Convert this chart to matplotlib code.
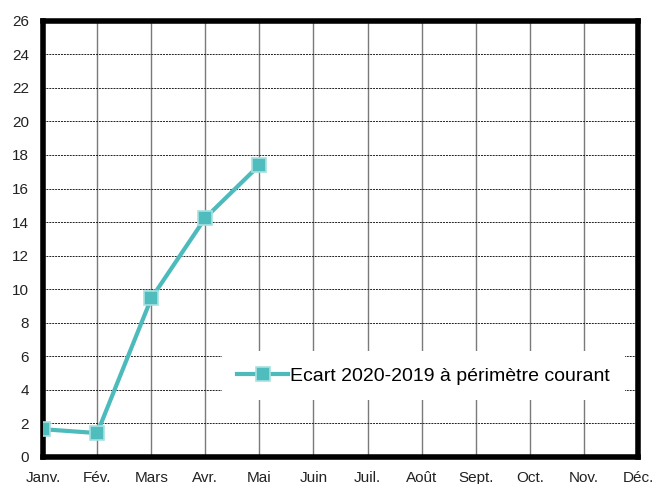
import matplotlib.pyplot as plt

months = ['Janv.', 'Fév.', 'Mars', 'Avr.', 'Mai', 'Juin', 'Juil.', 'Août',
          'Sept.', 'Oct.', 'Nov.', 'Déc.']
ecart = [1.65, 1.42, 9.45, 14.25, 17.4]
series_label = 'Ecart 2020-2019 à périmètre courant'


def main():
    plt.rcParams['font.family'] = ['Liberation Sans Narrow', 'Liberation Sans', 'DejaVu Sans']
    fig = plt.figure(figsize=(6.53, 4.84), dpi=100)
    ax = fig.add_axes([0.066, 0.056, 0.911, 0.901])

    x = list(range(len(ecart)))
    ax.plot(x, ecart, color='#4DBBBB', linewidth=3, marker='s', markersize=10,
            markerfacecolor='#4FBDBD', markeredgecolor='#A8E0E0', markeredgewidth=1.2,
            label=series_label, zorder=5)

    ax.set_xlim(0, len(months) - 1)
    ax.set_ylim(0, 26)
    ax.set_xticks(range(len(months)))
    ax.set_xticklabels(months)
    ax.set_yticks(range(0, 27, 2))
    ax.tick_params(length=0, labelsize=11, colors='#222222')
    ax.tick_params(axis='x', pad=10)
    ax.tick_params(axis='y', pad=10)

    ax.grid(axis='x', color='#7a7a7a', linewidth=1, linestyle='-')
    ax.grid(axis='y', color='#222222', linewidth=0.7, linestyle=(0, (2, 1)))
    ax.set_axisbelow(True)
    for sp in ax.spines.values():
        sp.set_linewidth(4)
        sp.set_color('black')

    leg = ax.legend(loc='lower right', bbox_to_anchor=(0.995, 0.108), fontsize=14,
                    frameon=True, fancybox=False, framealpha=1, edgecolor='white',
                    handlelength=2.6, handletextpad=0.1, borderpad=0.8)
    leg.get_frame().set_linewidth(0)

    fig.savefig('out.png', dpi=100)


if __name__ == '__main__':
    main()
